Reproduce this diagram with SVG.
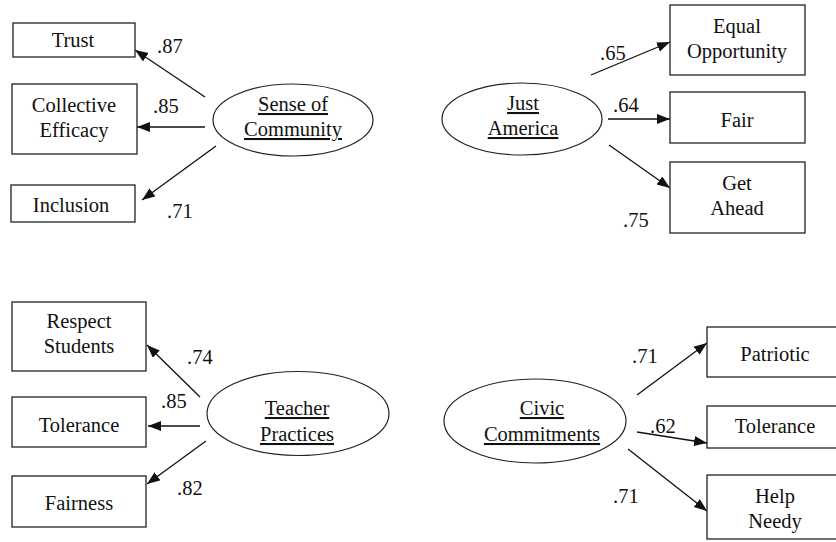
<svg xmlns="http://www.w3.org/2000/svg" width="836" height="542" viewBox="0 0 836 542">
<defs>
<marker id="ah" markerUnits="userSpaceOnUse" markerWidth="14" markerHeight="12" refX="13" refY="5" orient="auto">
<path d="M0,0 L13,5 L0,10 Z" fill="#111"/>
</marker>
<style>
.box{fill:#fff;stroke:#222;stroke-width:1.3}
.ell{fill:#fff;stroke:#222;stroke-width:1.2}
.t{font-family:'Times New Roman','Liberation Serif','Noto Serif','DejaVu Serif',serif;font-size:20.5px;fill:#111}
.c{text-anchor:middle}
.u{text-decoration:underline}
.conn line{stroke:#111;stroke-width:1.3;marker-end:url(#ah)}
</style>
</defs>
<rect width="836" height="542" fill="#fff"/>

<g id="connectors" class="conn">
<line x1="205" y1="97" x2="135" y2="50"/>
<line x1="205" y1="127" x2="137" y2="127"/>
<line x1="216" y1="146" x2="142" y2="200"/>
<line x1="591" y1="75" x2="670" y2="42"/>
<line x1="608" y1="119" x2="670" y2="119"/>
<line x1="609" y1="145" x2="670" y2="188"/>
<line x1="200" y1="397" x2="147" y2="345"/>
<line x1="200" y1="426" x2="148" y2="426"/>
<line x1="206" y1="441" x2="147" y2="484"/>
<line x1="637" y1="395" x2="707" y2="343"/>
<line x1="637" y1="432" x2="707" y2="443"/>
<line x1="628" y1="449" x2="707" y2="511"/>
</g>

<g class="t">
<g id="labels">
<text x="157" y="53">.87</text>
<text x="153" y="113">.85</text>
<text x="167" y="218">.71</text>
<text x="600" y="60">.65</text>
<text x="613" y="112">.64</text>
<text x="623" y="227">.75</text>
<text x="187" y="364">.74</text>
<text x="161" y="408">.85</text>
<text x="177" y="495">.82</text>
<text x="632" y="363">.71</text>
<text x="650" y="433">.62</text>
<text x="613" y="503">.71</text>
</g>

<g id="trust"><rect class="box" x="13" y="23" width="122" height="34"/><text class="c" x="73" y="47">Trust</text></g>
<g id="collective-efficacy"><rect class="box" x="12" y="84" width="125" height="70"/><text class="c" x="74" y="112">Collective</text><text class="c" x="74" y="137">Efficacy</text></g>
<g id="inclusion"><rect class="box" x="11" y="185" width="124" height="37"/><text class="c" x="71" y="212">Inclusion</text></g>
<g id="sense-of-community"><ellipse class="ell" cx="293" cy="120" rx="80" ry="36"/><text class="c u" x="293" y="111">Sense of</text><text class="c u" x="293" y="136">Community</text></g>

<g id="equal-opportunity"><rect class="box" x="670" y="5" width="135" height="70"/><text class="c" x="737" y="33">Equal</text><text class="c" x="737" y="58">Opportunity</text></g>
<g id="fair"><rect class="box" x="670" y="92" width="135" height="51"/><text class="c" x="737" y="127">Fair</text></g>
<g id="get-ahead"><rect class="box" x="670" y="162" width="135" height="71"/><text class="c" x="737" y="190">Get</text><text class="c" x="737" y="215">Ahead</text></g>
<g id="just-america"><ellipse class="ell" cx="522" cy="119" rx="80" ry="36"/><text class="c u" x="523" y="110">Just</text><text class="c u" x="523" y="135">America</text></g>

<g id="respect-students"><rect class="box" x="12" y="302" width="134" height="69"/><text class="c" x="79" y="328">Respect</text><text class="c" x="79" y="353">Students</text></g>
<g id="tolerance-1"><rect class="box" x="12" y="397" width="134" height="50"/><text class="c" x="79" y="432">Tolerance</text></g>
<g id="fairness"><rect class="box" x="12" y="476" width="134" height="51"/><text class="c" x="79" y="510">Fairness</text></g>
<g id="teacher-practices"><ellipse class="ell" cx="298" cy="413.5" rx="91" ry="42"/><text class="c u" x="297" y="415">Teacher</text><text class="c u" x="297" y="441">Practices</text></g>

<g id="patriotic"><rect class="box" x="707" y="327" width="140" height="50"/><text class="c" x="775" y="361">Patriotic</text></g>
<g id="tolerance-2"><rect class="box" x="707" y="406" width="140" height="42"/><text class="c" x="775" y="433">Tolerance</text></g>
<g id="help-needy"><rect class="box" x="707" y="475" width="140" height="64"/><text class="c" x="775" y="503">Help</text><text class="c" x="775" y="528">Needy</text></g>
<g id="civic-commitments"><ellipse class="ell" cx="535" cy="421" rx="91" ry="42"/><text class="c u" x="542" y="415">Civic</text><text class="c u" x="542" y="441">Commitments</text></g>
</g>
</svg>
